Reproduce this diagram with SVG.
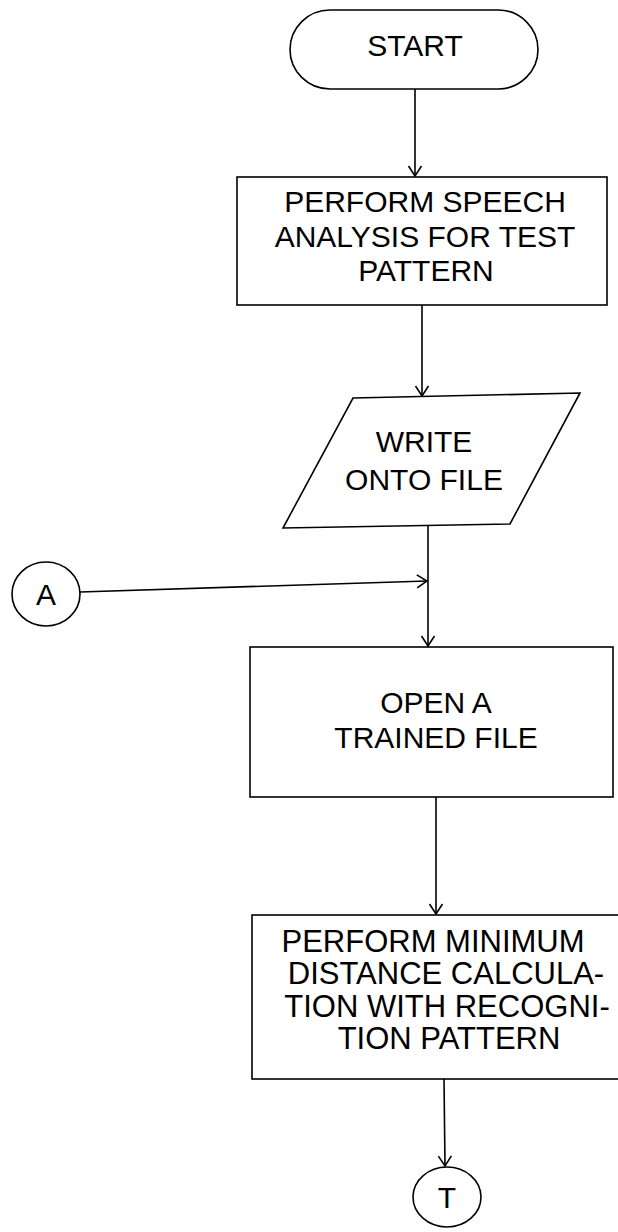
<svg xmlns="http://www.w3.org/2000/svg" width="618" height="1232" viewBox="0 0 618 1232">
<style>
.s{fill:none;stroke:#000;stroke-width:1.6}
.n{fill:#fff;stroke:#000;stroke-width:1.6}
text{font-family:"Liberation Sans",Arial,sans-serif;font-size:30px;fill:#000;text-anchor:middle}
.b3{font-size:31px}
</style>
<defs>
<marker id="ah" markerWidth="12" markerHeight="16" refX="11" refY="8" orient="auto" markerUnits="userSpaceOnUse">
<path d="M1,1.5 L11,8 L1,14.5" fill="none" stroke="#000" stroke-width="1.6"/>
</marker>
</defs>
<rect width="618" height="1232" fill="#fff"/>
<g id="connectors">
<line class="s" x1="415" y1="89" x2="415" y2="176" marker-end="url(#ah)"/>
<line class="s" x1="422" y1="305" x2="422" y2="396" marker-end="url(#ah)"/>
<line class="s" x1="428" y1="526" x2="428" y2="646" marker-end="url(#ah)"/>
<line class="s" x1="80" y1="592" x2="427" y2="581" marker-end="url(#ah)"/>
<line class="s" x1="436" y1="797" x2="436" y2="914" marker-end="url(#ah)"/>
<line class="s" x1="444" y1="1079" x2="445" y2="1166" marker-end="url(#ah)"/>
</g>
<g id="start">
<rect class="n" x="290" y="10" width="248" height="79" rx="40" ry="40"/>
<text x="415" y="56">START</text>
</g>
<g id="analysis">
<rect class="n" x="237" y="177" width="370" height="128"/>
<text x="425" y="212">PERFORM SPEECH</text>
<text x="425" y="247">ANALYSIS FOR TEST</text>
<text x="426" y="281">PATTERN</text>
</g>
<g id="write">
<polygon class="n" points="353,398 580,393 510,524 283,528"/>
<text x="424" y="452">WRITE</text>
<text x="424" y="490">ONTO FILE</text>
</g>
<g id="connA">
<ellipse class="n" cx="46" cy="594" rx="34" ry="32"/>
<text x="46" y="605">A</text>
</g>
<g id="open">
<rect class="n" x="250" y="647" width="363" height="150"/>
<text x="436" y="713">OPEN A</text>
<text x="436" y="748">TRAINED FILE</text>
</g>
<g id="mindist">
<rect class="n" x="252" y="915" width="400" height="164"/>
<text class="b3" x="433" y="952">PERFORM MINIMUM</text>
<text class="b3" x="446" y="984">DISTANCE CALCULA-</text>
<text class="b3" x="447" y="1017">TION WITH RECOGNI-</text>
<text class="b3" x="449" y="1049">TION PATTERN</text>
</g>
<g id="connT">
<ellipse class="n" cx="447" cy="1197" rx="34" ry="30"/>
<text x="447" y="1208">T</text>
</g>
</svg>
